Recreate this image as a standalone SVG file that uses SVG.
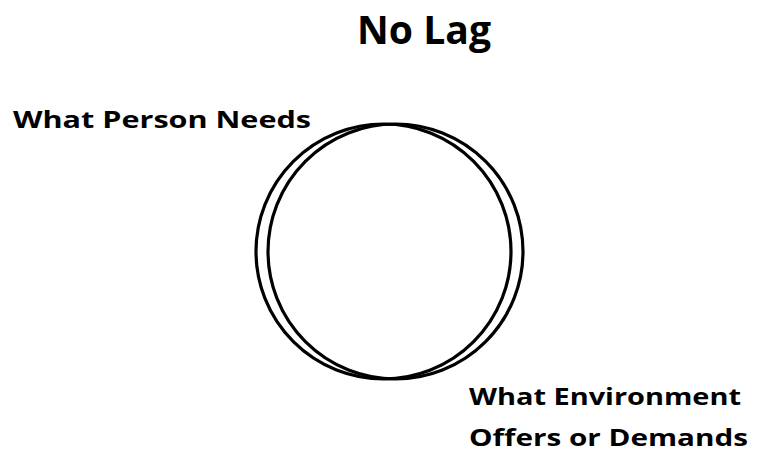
<svg xmlns="http://www.w3.org/2000/svg" width="758" height="460" viewBox="0 0 758 460">
<style>
text{font-family:"Open Sans","Liberation Sans",sans-serif;font-weight:bold;fill:#000}
.ring{fill:none;stroke:#000;stroke-width:3.2}
</style>
<rect width="758" height="460" fill="#fff"/>
<g id="title"><text x="357" y="44" font-size="40" textLength="134" lengthAdjust="spacingAndGlyphs">No Lag</text></g>
<g id="person">
<circle class="ring" cx="383.5" cy="251.5" r="127.5"/>
<text x="13" y="128" font-size="24" textLength="298" lengthAdjust="spacingAndGlyphs">What Person Needs</text>
</g>
<g id="environment">
<circle class="ring" cx="395.5" cy="251.5" r="127.5"/>
<text x="469" y="405" font-size="24" textLength="272" lengthAdjust="spacingAndGlyphs">What Environment</text>
<text x="469" y="446" font-size="24" textLength="279" lengthAdjust="spacingAndGlyphs">Offers or Demands</text>
</g>
<g id="connectors"/>
</svg>
